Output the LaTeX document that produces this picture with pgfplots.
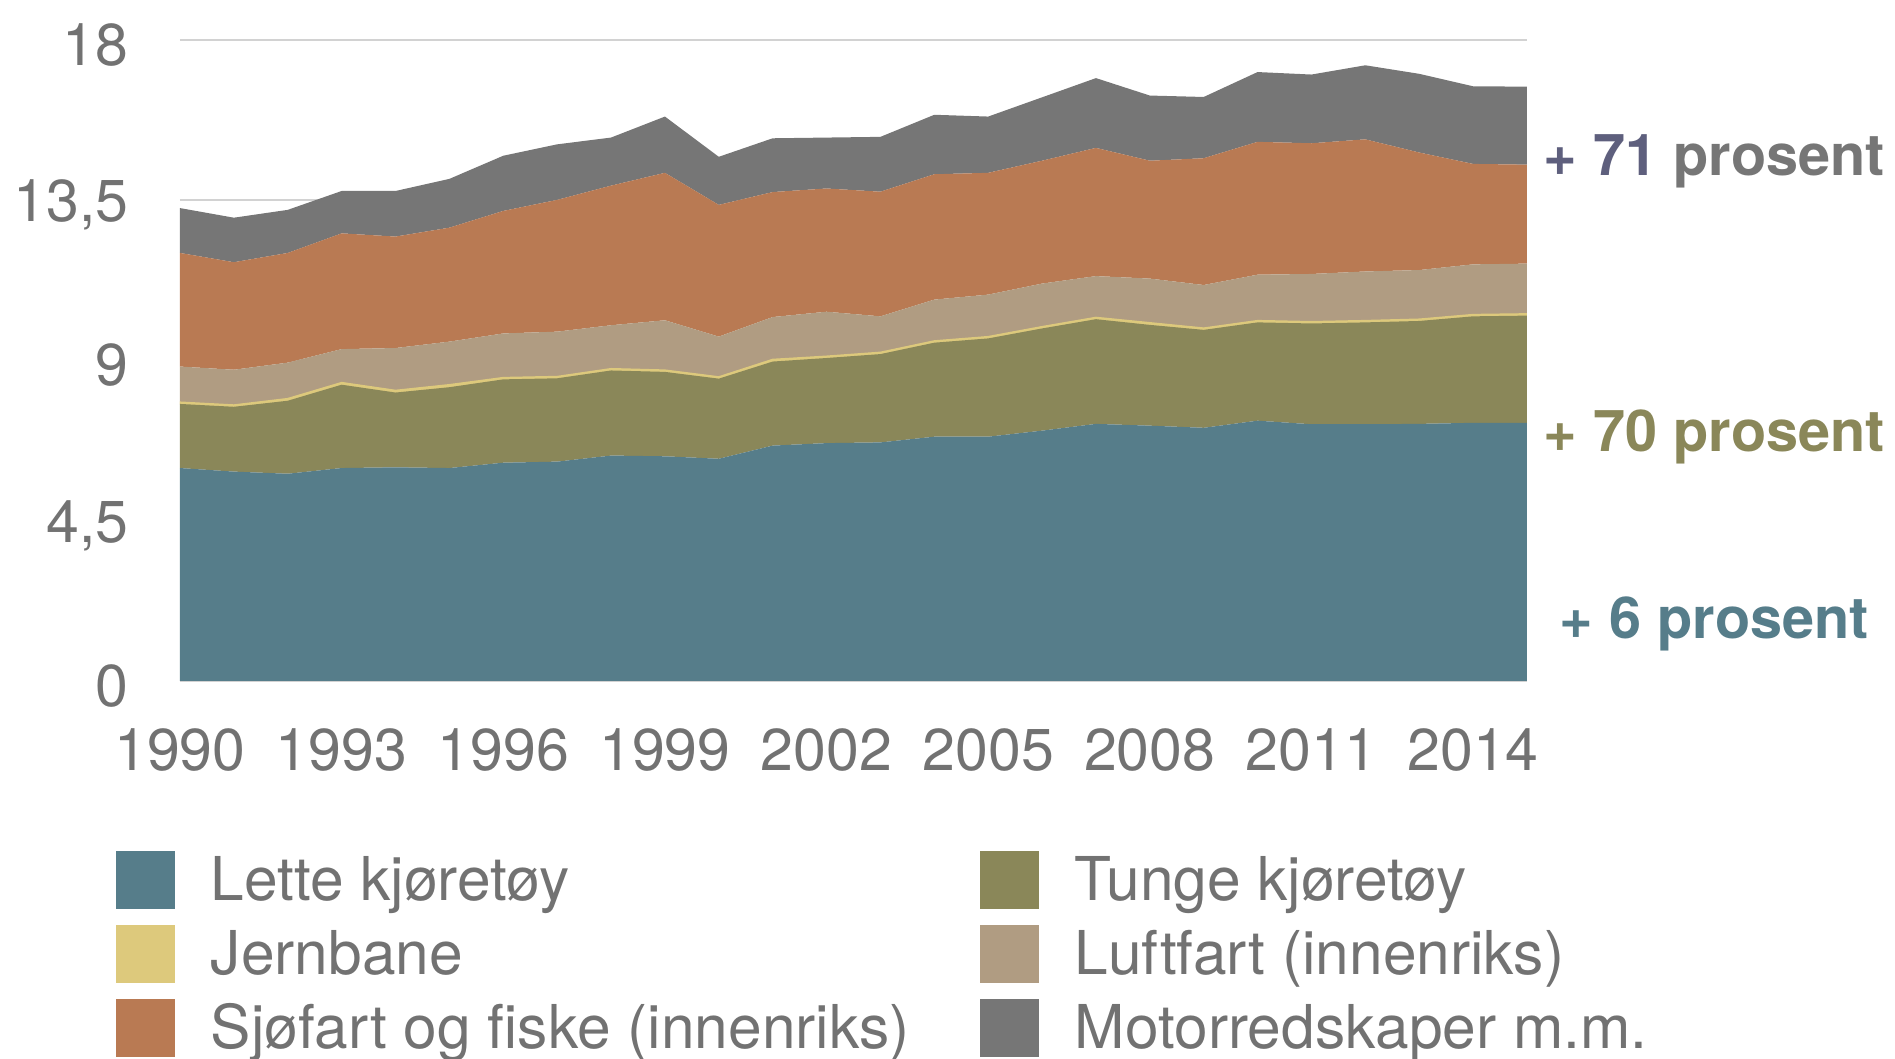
\documentclass[border=0pt]{standalone}
\usepackage{fontspec}
\setmainfont{TeX Gyre Heros}
\usepackage{pgfplots}
\usepackage{pgfplotstable}
\pgfplotsset{compat=1.18}

\definecolor{clette}{HTML}{567D8A}
\definecolor{ctunge}{HTML}{8A8759}
\definecolor{cjern}{HTML}{DDC97C}
\definecolor{cluft}{HTML}{B09C82}
\definecolor{csjo}{HTML}{B97A53}
\definecolor{cmotor}{HTML}{767676}
\definecolor{cannot}{HTML}{5E5F7D}
\definecolor{ctext}{HTML}{727272}
\definecolor{cgrid}{HTML}{D2D2D2}

\pgfplotstableread{
year L T J Lu S M
1990 5.98 1.80 0.05 1.00 3.19 1.26
1991 5.88 1.82 0.05 0.99 3.02 1.25
1992 5.82 2.05 0.06 1.01 3.08 1.21
1993 5.98 2.34 0.06 0.94 3.25 1.19
1994 6.00 2.10 0.06 1.19 3.13 1.28
1995 5.98 2.27 0.07 1.21 3.20 1.37
1996 6.13 2.34 0.05 1.24 3.44 1.55
1997 6.16 2.34 0.05 1.26 3.70 1.56
1998 6.33 2.39 0.05 1.22 3.92 1.35
1999 6.31 2.37 0.05 1.40 4.14 1.58
2000 6.24 2.25 0.05 1.13 3.70 1.35
2001 6.61 2.36 0.06 1.19 3.51 1.51
2002 6.68 2.39 0.05 1.25 3.46 1.43
2003 6.70 2.48 0.05 1.01 3.50 1.54
2004 6.86 2.64 0.05 1.16 3.52 1.67
2005 6.86 2.76 0.05 1.18 3.42 1.58
2006 7.03 2.87 0.05 1.21 3.45 1.78
2007 7.22 2.94 0.05 1.16 3.60 1.96
2008 7.17 2.83 0.06 1.24 3.31 1.83
2009 7.11 2.75 0.05 1.21 3.56 1.72
2010 7.31 2.76 0.05 1.29 3.73 1.96
2011 7.21 2.83 0.05 1.34 3.67 1.93
2012 7.21 2.86 0.05 1.38 3.71 2.08
2013 7.22 2.89 0.05 1.38 3.30 2.21
2014 7.25 2.99 0.05 1.41 2.82 2.18
2015 7.25 3.01 0.05 1.41 2.78 2.19
}\datatable

\begin{document}
\begin{tikzpicture}
\useasboundingbox (0,0) rectangle (18.95,10.59);
\begin{axis}[
  at={(1.80cm,3.78cm)}, anchor=south west,
  scale only axis, width=13.47cm, height=6.41cm,
  xmin=1990, xmax=2015, ymin=0, ymax=18,
  stack plots=y,
  xtick={1990,1993,...,2014},
  ytick={0,4.5,9,13.5,18},
  ymajorgrids, major grid style={cgrid, line width=0.6pt},
  axis line style={draw=none},
  major tick length=0pt,
  /pgf/number format/assume math mode=true,
  /pgf/number format/use comma,
  /pgf/number format/1000 sep={},
  tick label style={font=\fontsize{16.8}{19}\selectfont, text=ctext, inner sep=0pt},
  yticklabel style={anchor=east, xshift=-0.51cm, yshift=-0.05cm},
  xticklabel style={anchor=north, yshift=-0.47cm},
  legend columns=2,
  legend image code/.code={\path[#1, draw=none] (0cm,-0.08cm) rectangle (0.59cm,0.50cm);},
  legend style={at={(-0.64cm,-1.70cm)}, anchor=north west, draw=none, fill=none,
    inner sep=0pt, outer sep=0pt,
    font=\fontsize{17.2}{19}\selectfont, text=ctext,
    row sep=0.10cm,
    nodes={inner sep=0pt, text height=0.44cm, text depth=0.14cm, anchor=base west},
    /tikz/column 2/.style={column sep=0pt},
    /tikz/every odd column/.style={column sep=0.36cm},
  },
  legend cell align=left,
]
\addplot[fill=clette, draw=none] table[x=year, y=L] {\datatable} \closedcycle;
\addlegendentry{\makebox[7.69cm][l]{Lette kjøretøy}}
\addplot[fill=ctunge, draw=none] table[x=year, y=T] {\datatable} \closedcycle;
\addlegendentry{Tunge kjøretøy}
\addplot[fill=cjern, draw=cjern, line width=0.4pt] table[x=year, y=J] {\datatable} \closedcycle;
\addlegendentry{\makebox[7.69cm][l]{Jernbane}}
\addplot[fill=cluft, draw=none] table[x=year, y=Lu] {\datatable} \closedcycle;
\addlegendentry{Luftfart (innenriks)}
\addplot[fill=csjo, draw=none] table[x=year, y=S] {\datatable} \closedcycle;
\addlegendentry{\makebox[7.69cm][l]{Sjøfart og fiske (innenriks)}}
\addplot[fill=cmotor, draw=none] table[x=year, y=M] {\datatable} \closedcycle;
\addlegendentry{Motorredskaper m.m.}
\end{axis}
\begin{scope}[every node/.style={anchor=west, inner sep=0pt, font=\bfseries\fontsize{16.4}{19}\selectfont}]
\node at (15.43,8.98) {\textcolor{cannot}{+ 71} \textcolor{cmotor}{prosent}};
\node[text=ctunge] at (15.43,6.22) {+ 70 prosent};
\node[text=clette] at (15.59,4.35) {+ 6 prosent};
\end{scope}
\end{tikzpicture}
\end{document}
